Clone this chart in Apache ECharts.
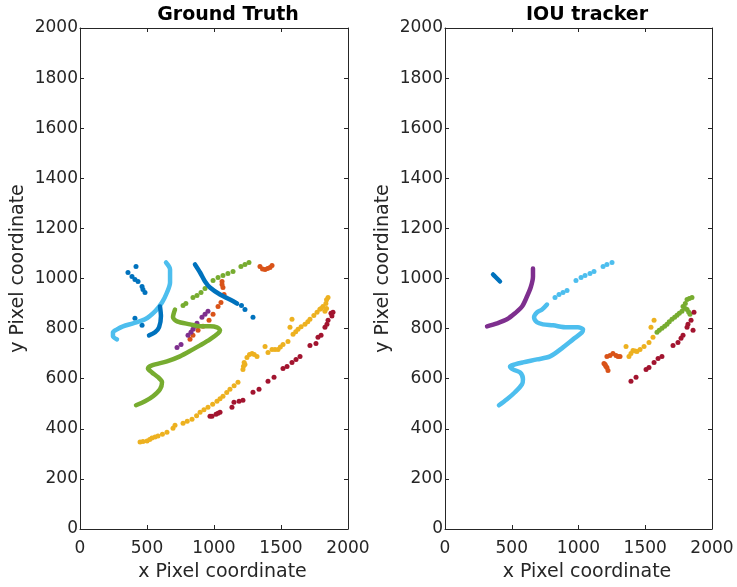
<!DOCTYPE html>
<html>
<head>
<meta charset="utf-8">
<script src="https://cdn.jsdelivr.net/npm/echarts@6/dist/echarts.min.js"></script>
<style>
  html, body { margin: 0; padding: 0; background: #fff; }
  #chart { width: 737px; height: 587px; }
</style>
</head>
<body>
<div id="chart"></div>
<script>
// Axis ranges and ticks (image pixel coordinates)
const axisMin = 0;
const axisMax = 2000;
const tickStep = 200;
const xTickStep = 500;
const panelTitles = ['Ground Truth', 'IOU tracker'];
const xAxisTitle = 'x Pixel coordinate';
const yAxisTitle = 'y Pixel coordinate';

// ---- Ground truth tracks ----
const gtBlueDense1 = [[858,1056],[896,1024],[933,988],[970,964],[1045,936],[1119,916],[1172,900]];
const gtBlueDense2 = [[597,888],[604,849],[590,805],[560,785],[515,773]];
const gtBlueDots = [[418,1048],[358,1024],[388,1008],[410,996],[433,988],[463,968],[470,956],[485,944],
  [410,841],[463,813],[1205,892],[1231,876],[1291,845]];
const gtLightBlue = [[642,1064],[672,1036],[672,984],[649,944],[612,904],[560,869],[485,837],[396,821],
  [321,809],[276,797],[246,785],[246,769],[276,757]];
const gtGreenDense = [[709,876],[694,845],[724,829],[821,817],[896,809],[970,809],[1022,805],[1045,793],
  [1030,781],[970,757],[896,733],[843,717],[746,689],[649,669],[537,653],[507,641],[537,625],[582,606],
  [612,586],[597,558],[545,530],[485,510],[418,494]];
const gtGreenDots = [[769,892],[790,900],[843,924],[873,932],[903,944],[933,960],[993,992],[1030,1004],
  [1067,1012],[1104,1020],[1142,1028],[1201,1048],[1231,1056],[1261,1064]];
const gtOrange = [[1343,1048],[1362,1038],[1381,1036],[1400,1040],[1418,1044],[1433,1052],
  [1060,988],[1060,976],[1067,964],[1075,936],[1052,904],[1030,888],[993,857],[963,833],[918,809],
  [881,793],[843,773],[821,757]];
const gtPurple = [[955,869],[933,857],[910,845],[873,821],[858,809],[843,797],[828,785],[806,773],[754,737],[724,725]];
const gtYellow = [[448,347],[470,349],[500,351],[520,357],[537,363],[560,367],[582,371],[615,378],[649,386],
  [694,402],[709,414],[769,422],[800,430],[836,438],[870,452],[896,466],[925,476],[955,486],[990,498],
  [1022,510],[1045,520],[1067,530],[1095,545],[1119,558],[1150,572],[1179,586],[1216,637],[1220,650],
  [1231,657],[1225,665],[1246,685],[1265,697],[1284,701],[1300,697],[1321,689],[1381,729],[1403,705],
  [1433,717],[1455,717],[1478,717],[1495,727],[1515,737],[1552,749],[1567,805],[1582,837],[1590,777],
  [1610,787],[1627,797],[1650,807],[1679,817],[1700,827],[1716,837],[1745,852],[1769,865],[1790,877],
  [1813,888],[1828,869],[1840,880],[1800,880],[1835,900],[1851,924],[1840,915]];
const gtRed = [[970,450],[985,450],[1015,458],[1030,462],[1045,466],[1134,486],[1149,506],[1187,510],
  [1216,514],[1291,546],[1336,558],[1403,590],[1448,606],[1515,641],[1545,649],[1582,665],[1612,677],
  [1642,689],[1716,733],[1761,741],[1776,765],[1799,773],[1828,805],[1843,817],[1851,833],[1873,861],
  [1888,865],[1880,850]];

// ---- IOU tracker tracks ----
const iouBlue = [[360,1016],[375,1008],[390,1000],[412,988]];
const iouPurple = [[659,1040],[659,1008],[644,968],[614,928],[577,888],[524,861],[464,837],[390,821],[315,809]];
const iouLightBlueDense = [[404,494],[464,518],[524,546],[577,578],[584,598],[562,625],[509,637],[487,649],
  [524,657],[584,665],[689,677],[787,689],[884,725],[959,757],[1026,785],[1034,797],[996,805],[914,805],
  [809,813],[734,817],[689,825],[667,845],[689,865],[727,876],[764,896]];
const iouLightBlueDots = [[824,924],[854,936],[884,944],[914,952],[981,992],[1019,1004],[1049,1012],
  [1086,1020],[1116,1028],[1184,1048],[1213,1056],[1251,1064]];
const iouOrange = [[1191,661],[1199,657],[1213,645],[1221,633],[1205,650],[1213,689],[1236,693],[1258,701],
  [1281,693],[1296,689],[1311,689]];
const iouYellow = [[1356,729],[1378,689],[1393,701],[1408,713],[1425,711],[1438,709],[1461,717],[1491,729],
  [1528,745],[1558,765],[1543,805],[1566,833]];
const iouGreen = [[1588,785],[1605,793],[1625,801],[1645,809],[1663,817],[1680,827],[1700,837],[1720,845],
  [1738,853],[1755,861],[1775,869],[1783,888],[1800,880],[1813,876],[1825,866],[1835,857],[1800,900],
  [1813,916],[1830,920],[1850,924]];
const iouRed = [[1393,590],[1431,606],[1506,637],[1528,645],[1566,665],[1596,681],[1625,689],[1708,733],
  [1745,745],[1768,761],[1783,773],[1813,805],[1820,817],[1843,833],[1865,865],[1858,793]];

const C = {
  blue: '#0072BD', orange: '#D95319', yellow: '#EDB120', purple: '#7E2F8E',
  green: '#77AC30', light: '#4DBEEE', red: '#A2142F'
};
const ink = '#262626';
const font = 'DejaVu Sans';

function dots(data, color, gi) {
  return { type: 'scatter', data, xAxisIndex: gi * 2, yAxisIndex: gi * 2, symbolSize: 5,
    itemStyle: { color, opacity: 1 }, silent: true };
}
function track(data, color, gi) {
  return { type: 'line', data, xAxisIndex: gi * 2, yAxisIndex: gi * 2, showSymbol: false, symbol: 'none',
    smooth: 0.3, lineStyle: { color, width: 4.5, cap: 'round', join: 'round' }, silent: true };
}

function xAx(gi, main) {
  return {
    type: 'value', gridIndex: gi, min: axisMin, max: axisMax, interval: xTickStep,
    position: main ? 'bottom' : 'top',
    name: main ? xAxisTitle : '', nameLocation: 'middle', nameGap: 34,
    nameTextStyle: { color: ink, fontSize: 19, fontFamily: font, padding: [0, 0, 0, 17] },
    axisLine: { show: true, onZero: false, lineStyle: { color: ink, width: 1 } },
    axisTick: { show: true, inside: true, length: 4, lineStyle: { color: ink } },
    axisLabel: { show: main, color: ink, fontSize: 17, fontFamily: font, margin: 11,
      formatter: v => String(v) },
    splitLine: { show: false }
  };
}
function yAx(gi, main) {
  return {
    type: 'value', gridIndex: gi, min: axisMin, max: axisMax, interval: tickStep,
    position: main ? 'left' : 'right',
    name: main ? yAxisTitle : '', nameLocation: 'middle', nameGap: 52,
    nameTextStyle: { color: ink, fontSize: 19, fontFamily: font, padding: [0, 0, 0, 20] },
    axisLine: { show: true, onZero: false, lineStyle: { color: ink, width: 1 } },
    axisTick: { show: true, inside: true, length: 4, lineStyle: { color: ink } },
    axisLabel: { show: main, color: ink, fontSize: 17, fontFamily: font, margin: 2,
      formatter: v => String(v) },
    splitLine: { show: false }
  };
}

const chart = echarts.init(document.getElementById('chart'), null, { renderer: 'canvas' });
chart.setOption({
  animation: false,
  backgroundColor: '#ffffff',
  title: [
    { text: panelTitles[0], left: 223, top: 1, textAlign: 'center',
      textStyle: { color: '#000', fontSize: 19, fontWeight: 'bold', fontFamily: font } },
    { text: panelTitles[1], left: 582, top: 1, textAlign: 'center',
      textStyle: { color: '#000', fontSize: 19, fontWeight: 'bold', fontFamily: font } }
  ],
  grid: [
    { left: 80, right: 389, top: 28, bottom: 57 },
    { left: 445, right: 25, top: 28, bottom: 57 }
  ],
  xAxis: [xAx(0, true), xAx(0, false), xAx(1, true), xAx(1, false)],
  yAxis: [yAx(0, true), yAx(0, false), yAx(1, true), yAx(1, false)],
  series: [
    track(gtLightBlue, C.light, 0),
    track(gtGreenDense, C.green, 0),
    dots(gtGreenDots, C.green, 0),
    track(gtBlueDense1, C.blue, 0),
    track(gtBlueDense2, C.blue, 0),
    dots(gtBlueDots, C.blue, 0),
    dots(gtOrange, C.orange, 0),
    dots(gtPurple, C.purple, 0),
    dots(gtYellow, C.yellow, 0),
    dots(gtRed, C.red, 0),

    track(iouBlue, C.blue, 1),
    track(iouPurple, C.purple, 1),
    track(iouLightBlueDense, C.light, 1),
    dots(iouLightBlueDots, C.light, 1),
    dots(iouOrange, C.orange, 1),
    dots(iouYellow, C.yellow, 1),
    dots(iouGreen, C.green, 1),
    dots(iouRed, C.red, 1)
  ]
});
</script>
</body>
</html>
